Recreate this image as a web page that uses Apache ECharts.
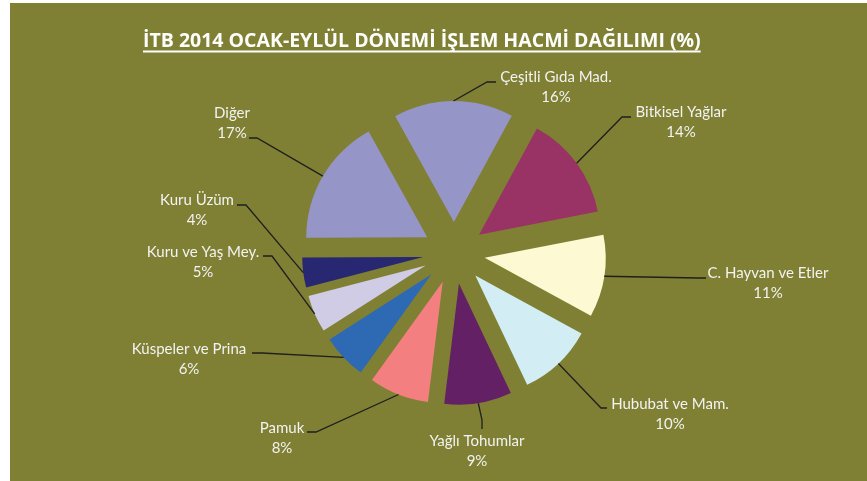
<!DOCTYPE html>
<html>
<head>
<meta charset="utf-8">
<script src="https://cdn.jsdelivr.net/npm/echarts@6/dist/echarts.min.js"></script>
<style>
html,body{margin:0;padding:0;background:#fff;}
#main{position:absolute;left:10px;top:3px;width:857px;height:478px;}
</style>
</head>
<body>
<div id="main"></div>
<script>
// pay sırası saat yönünde, Çeşitli Gıda'dan başlıyor
var categories = ['Çeşitli Gıda Mad.', 'Bitkisel Yağlar', 'C. Hayvan ve Etler', 'Hububat ve Mam.', 'Yağlı Tohumlar', 'Pamuk', 'Küspeler ve Prina', 'Kuru ve Yaş Mey.', 'Kuru Üzüm', 'Diğer'];
var shares = [16, 14, 11, 10, 9, 8, 6, 5, 4, 17];
var sliceColors = ['#9595c8', '#993366', '#fcf9d3', '#d3edf5', '#642064', '#f37f80', '#2e69b3', '#d0cce6', '#272772', '#9595c8'];

// etiket yerleşimi (Excel'deki elle yerleştirilmiş etiketler)
var labelCx   = [546, 671, 758, 660, 467, 272, 179, 193, 187, 222];
var labelTop  = [64, 99, 260, 391, 428, 415, 336, 239, 187, 100];
var lineElbow = [[477, 79], [612, 114], [688, 275], [591, 405], [472, 417], [306, 429], [252, 350], [262, 253], [236, 202], [247, 135]];
var lineEnd   = [[486, 79], [621, 114], [696, 275], [597, 405], [472, 426], [297, 429], [242, 350], [253, 253], [227, 202], [239, 135]];

var pieCenter = [444, 250];
var pieRadius = 121;
var explode = 31;

var titleText = 'İTB 2014 OCAK-EYLÜL DÖNEMİ İŞLEM HACMİ DAĞILIMI (%)';
var titleSize = 19.5;
var titleX = 133;

var chart = echarts.init(document.getElementById('main'));

// başlık altı çizgisi için metin genişliği
var ctx = document.createElement('canvas').getContext('2d');
ctx.font = 'bold ' + titleSize + 'px "Open Sans"';
var titleW = ctx.measureText(titleText).width;

var pieData = categories.map(function (name, i) {
  return {
    name: name,
    value: shares[i],
    selected: true,
    itemStyle: { color: sliceColors[i] }
  };
});

// etiketler için ikinci (görünmez) pay serisi
var labelData = categories.map(function (name, i) {
  return { name: name, value: shares[i] };
});

chart.setOption({
  backgroundColor: '#7f8033',
  animation: false,
  title: {
    text: titleText,
    left: titleX,
    top: 28,
    padding: 0,
    textStyle: { color: '#ffffff', fontFamily: 'Open Sans', fontWeight: 'bold', fontSize: titleSize }
  },
  graphic: [{
    type: 'line',
    shape: { x1: titleX, y1: 48.5, x2: titleX + titleW, y2: 48.5 },
    style: { stroke: '#ffffff', lineWidth: 2 }
  }],
  series: [{
    type: 'pie',
    center: pieCenter,
    radius: pieRadius,
    startAngle: 119,
    clockwise: true,
    selectedMode: 'multiple',
    selectedOffset: explode,
    data: pieData,
    label: { show: false },
    labelLine: { show: false },
    emphasis: { disabled: true },
    select: { itemStyle: {} }
  }, {
    type: 'pie',
    center: pieCenter,
    radius: pieRadius,
    startAngle: 119,
    clockwise: true,
    silent: true,
    z: 3,
    data: labelData,
    itemStyle: { color: 'rgba(0,0,0,0)' },
    label: {
      show: true,
      position: 'outside',
      formatter: function (p) { return '{n|' + p.name + '}\n{p|' + p.value + '%}'; },
      rich: {
        n: { color: '#f2f2f2', fontFamily: 'Lato', fontSize: 15, lineHeight: 20, align: 'center' },
        p: { color: '#f2f2f2', fontFamily: 'Lato', fontSize: 15, lineHeight: 20, align: 'center' }
      }
    },
    labelLine: {
      show: true,
      length: 25,
      length2: 10,
      lineStyle: { color: '#1f1f1f', width: 1.3 }
    },
    labelLayout: function (params) {
      var i = params.dataIndex;
      // patlatılmış dilimin dış kenarındaki başlangıç noktası
      var p0 = params.labelLinePoints[0];
      var vx = p0[0] - pieCenter[0], vy = p0[1] - pieCenter[1];
      var len = Math.sqrt(vx * vx + vy * vy) || 1;
      var start = [p0[0] + vx / len * explode, p0[1] + vy / len * explode];
      return {
        x: labelCx[i],
        y: labelTop[i],
        align: 'center',
        verticalAlign: 'top',
        labelLinePoints: [start, lineElbow[i], lineEnd[i]]
      };
    },
    emphasis: { disabled: true }
  }]
});
</script>
</body>
</html>
